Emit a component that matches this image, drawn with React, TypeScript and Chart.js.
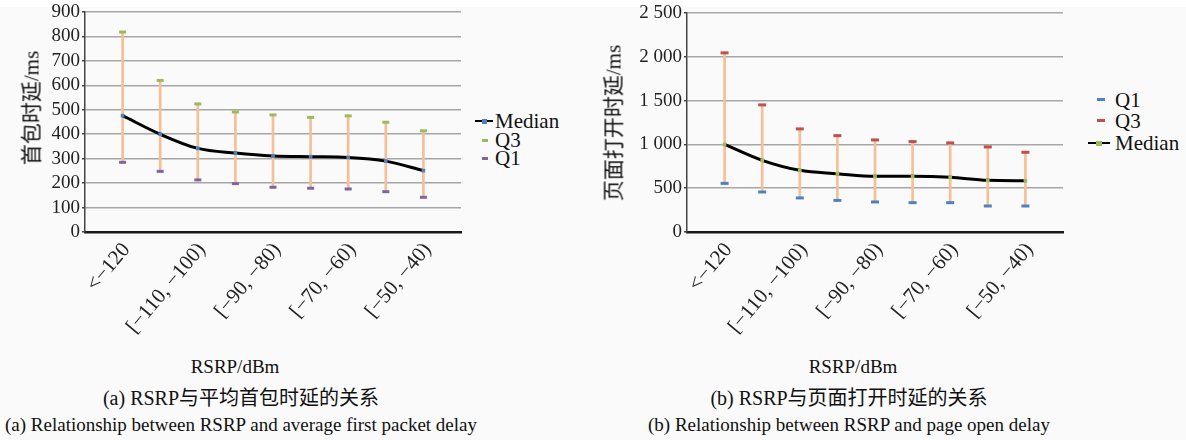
import React, { useEffect, useRef } from "react";
import { Chart, registerables } from "chart.js";
Chart.register(...registerables);

const categories = [
  "<−120",
  "[−120, −110)",
  "[−110, −100)",
  "[−100, −90)",
  "[−90, −80)",
  "[−80, −70)",
  "[−70, −60)",
  "[−60, −50)",
  "[−50, −40)",
];
const firstPacketQ1 = [285, 248, 213, 198, 183, 179, 176, 165, 142];
const firstPacketMedian = [476, 400, 342, 323, 311, 308, 305, 290, 251];
const firstPacketQ3 = [818, 620, 524, 491, 479, 469, 475, 449, 414];
const pageOpenQ1 = [555, 457, 389, 361, 343, 335, 335, 297, 297];
const pageOpenMedian = [1000, 818, 704, 666, 635, 635, 624, 590, 586];
const pageOpenQ3 = [2045, 1451, 1177, 1100, 1051, 1032, 1017, 971, 910];
const firstPacketYTicks = [0, 100, 200, 300, 400, 500, 600, 700, 800, 900];
const pageOpenYTicks = [0, 500, 1000, 1500, 2000, 2500];

const SERIF = '"Liberation Serif", "DejaVu Serif", serif';
const MIXED = '"Liberation Serif", "DejaVu Serif", "Noto Sans CJK SC", serif';

function fmt(v: number) {
  return String(v).replace(/\B(?=(\d{3})+(?!\d))/g, " ");
}

type PanelProps = {
  left: number;
  width: number;
  height: number;
  areaLeft: number;
  areaRight: number;
  areaTop: number;
  areaBottom: number;
  q1: number[];
  med: number[];
  q3: number[];
  yTicks: number[];
  q1Color: string;
  q3Color: string;
  medColor: string;
  q3Radius: number;
};

function Panel(p: PanelProps) {
  const ref = useRef<HTMLCanvasElement | null>(null);
  useEffect(() => {
    if (!ref.current) return;
    const yMax = p.yTicks[p.yTicks.length - 1];
    const yStep = p.yTicks[1] - p.yTicks[0];
    const chart = new Chart(ref.current, {
      type: "bar",
      data: {
        datasets: [
          {
            type: "line",
            label: "Q3",
            data: p.q3.map((v, i) => ({ x: i, y: v })),
            showLine: false,
            pointStyle: "line",
            pointRadius: p.q3Radius,
            pointBorderWidth: 3,
            borderColor: p.q3Color,
            backgroundColor: p.q3Color,
            order: 1,
          },
          {
            type: "line",
            label: "Q1",
            data: p.q1.map((v, i) => ({ x: i, y: v })),
            showLine: false,
            pointStyle: "line",
            pointRadius: p.q3Radius,
            pointBorderWidth: 3,
            borderColor: p.q1Color,
            backgroundColor: p.q1Color,
            order: 1,
          },
          {
            type: "line",
            label: "Median",
            data: p.med.map((v, i) => ({ x: i, y: v })),
            borderColor: "#000",
            borderWidth: 3,
            tension: 0.4,
            cubicInterpolationMode: "monotone",
            pointStyle: "rect",
            pointRadius: 2.6,
            pointBackgroundColor: p.medColor,
            pointBorderColor: p.medColor,
            pointBorderWidth: 0,
            order: 2,
          },
          {
            type: "bar",
            label: "IQR",
            data: p.q1.map((v, i) => ({ x: i, y: [v, p.q3[i]] })),
            backgroundColor: "#f6bf96",
            barThickness: 2,
            order: 3,
          },
        ] as any,
      },
      options: {
        responsive: false,
        animation: false,
        layout: {
          padding: { left: 0, top: p.areaTop, right: p.width - p.areaRight, bottom: 0 },
        },
        plugins: { legend: { display: false }, tooltip: { enabled: false } },
        scales: {
          x: {
            type: "linear",
            min: -1,
            max: 9,
            offset: false,
            grid: { display: false, drawTicks: false, offset: false },
            border: { display: true, color: "#1a1a1a", width: 2.5 },
            ticks: {
              stepSize: 1,
              autoSkip: false,
              maxRotation: 50,
              minRotation: 50,
              padding: 6,
              labelOffset: 4,
              color: "#222",
              font: { family: SERIF, size: 21 },
              callback: (v: any) => {
                const n = Number(v);
                return Number.isInteger(n) && n >= 0 && n < categories.length && n % 2 === 0
                  ? categories[n]
                  : "";
              },
            },
            afterFit: (s: any) => {
              s.height = p.height - p.areaBottom;
              s.paddingLeft = 0;
              s.paddingRight = 0;
            },
          },
          y: {
            min: 0,
            max: yMax,
            ticks: {
              stepSize: yStep,
              autoSkip: false,
              padding: 2,
              color: "#222",
              font: { family: SERIF, size: 19 },
              callback: (v: any) => fmt(Number(v)),
            },
            grid: {
              color: (c: any) => (c.tick && c.tick.value === 0 ? "rgba(0,0,0,0)" : "#a6a6a6"),
              lineWidth: 1.6,
              tickLength: 3,
              drawTicks: true,
              tickColor: "#444",
            },
            border: { display: true, color: "#444", width: 1.5 },
            afterFit: (s: any) => {
              s.width = p.areaLeft;
              s.paddingTop = 0;
              s.paddingBottom = 0;
            },
          },
        },
      } as any,
    });
    return () => chart.destroy();
  }, []);
  return (
    <canvas
      ref={ref}
      width={p.width}
      height={p.height}
      style={{ position: "absolute", left: p.left, top: 0, width: p.width, height: p.height }}
    />
  );
}

const abs = (o: any) => ({ position: "absolute" as const, ...o });

function LegendRow(props: { x: number; y: number; text: string; marker: React.ReactNode }) {
  return (
    <>
      {props.marker}
      <div
        style={abs({
          left: props.x,
          top: props.y - 13,
          height: 26,
          lineHeight: "26px",
          fontFamily: SERIF,
          fontSize: 21,
          color: "#111",
          whiteSpace: "nowrap",
        })}
      >
        {props.text}
      </div>
    </>
  );
}

const dash = (x: number, y: number, w: number, color: string) => (
  <div style={abs({ left: x, top: y - 1.5, width: w, height: 3, background: color })} />
);
const lineMarker = (x: number, y: number, w: number, color: string, mw: number) => (
  <>
    <div style={abs({ left: x, top: y - 1.25, width: w, height: 2.5, background: "#000" })} />
    <div style={abs({ left: x + w / 2 - mw / 2, top: y - 2.5, width: mw, height: 5, background: color })} />
  </>
);

export default function App() {
  const text = (o: any, s: string, size: number, family = MIXED) => (
    <div
      style={abs({
        ...o,
        transform: o.transform || "translate(-50%, -50%)",
        fontFamily: family,
        fontSize: size,
        color: "#111",
        whiteSpace: "nowrap",
        lineHeight: 1,
      })}
    >
      {s}
    </div>
  );
  return (
    <div
      style={{
        position: "fixed",
        left: 0,
        top: 0,
        width: 1186,
        height: 440,
        background: "#fff",
        overflow: "hidden",
      }}
    >
      <div style={abs({ left: 0, top: 7, width: 1186, height: 433, background: "#fafafa" })} />
      <Panel
        left={0}
        width={470}
        height={340}
        areaLeft={85}
        areaRight={461}
        areaTop={12}
        areaBottom={232}
        q1={firstPacketQ1}
        med={firstPacketMedian}
        q3={firstPacketQ3}
        yTicks={firstPacketYTicks}
        q1Color="#8064a2"
        q3Color="#9bbb59"
        medColor="#4f81bd"
        q3Radius={3.5}
      />
      <Panel
        left={600}
        width={470}
        height={340}
        areaLeft={87}
        areaRight={463}
        areaTop={13}
        areaBottom={232}
        q1={pageOpenQ1}
        med={pageOpenMedian}
        q3={pageOpenQ3}
        yTicks={pageOpenYTicks}
        q1Color="#4f81bd"
        q3Color="#c0504d"
        medColor="#9bbb59"
        q3Radius={4}
      />
      {text({ left: 32, top: 108, transform: "translate(-50%, -50%) rotate(-90deg)" }, "首包时延/ms", 21)}
      {text({ left: 614, top: 123, transform: "translate(-50%, -50%) rotate(-90deg)" }, "页面打开时延/ms", 21)}
      {text({ left: 235, top: 366 }, "RSRP/dBm", 19, SERIF)}
      {text({ left: 853, top: 366 }, "RSRP/dBm", 19, SERIF)}
      {text({ left: 241, top: 398 }, "(a) RSRP与平均首包时延的关系", 20)}
      {text({ left: 241, top: 424 }, "(a) Relationship between RSRP and average first packet delay", 19, SERIF)}
      {text({ left: 849, top: 398 }, "(b) RSRP与页面打开时延的关系", 20)}
      {text({ left: 849, top: 424 }, "(b) Relationship between RSRP and page open delay", 19, SERIF)}

      <LegendRow x={495} y={121} text="Median" marker={lineMarker(475, 121, 18, "#4f81bd", 5)} />
      <LegendRow x={495} y={139.5} text="Q3" marker={dash(482, 140, 6, "#9bbb59")} />
      <LegendRow x={495} y={158} text="Q1" marker={dash(482, 158, 6, "#8064a2")} />

      <LegendRow x={1115} y={100} text="Q1" marker={dash(1097, 99, 8, "#4f81bd")} />
      <LegendRow x={1115} y={121} text="Q3" marker={dash(1097, 120, 8, "#c0504d")} />
      <LegendRow x={1115} y={143} text="Median" marker={lineMarker(1088, 143, 22, "#9bbb59", 6)} />
    </div>
  );
}
